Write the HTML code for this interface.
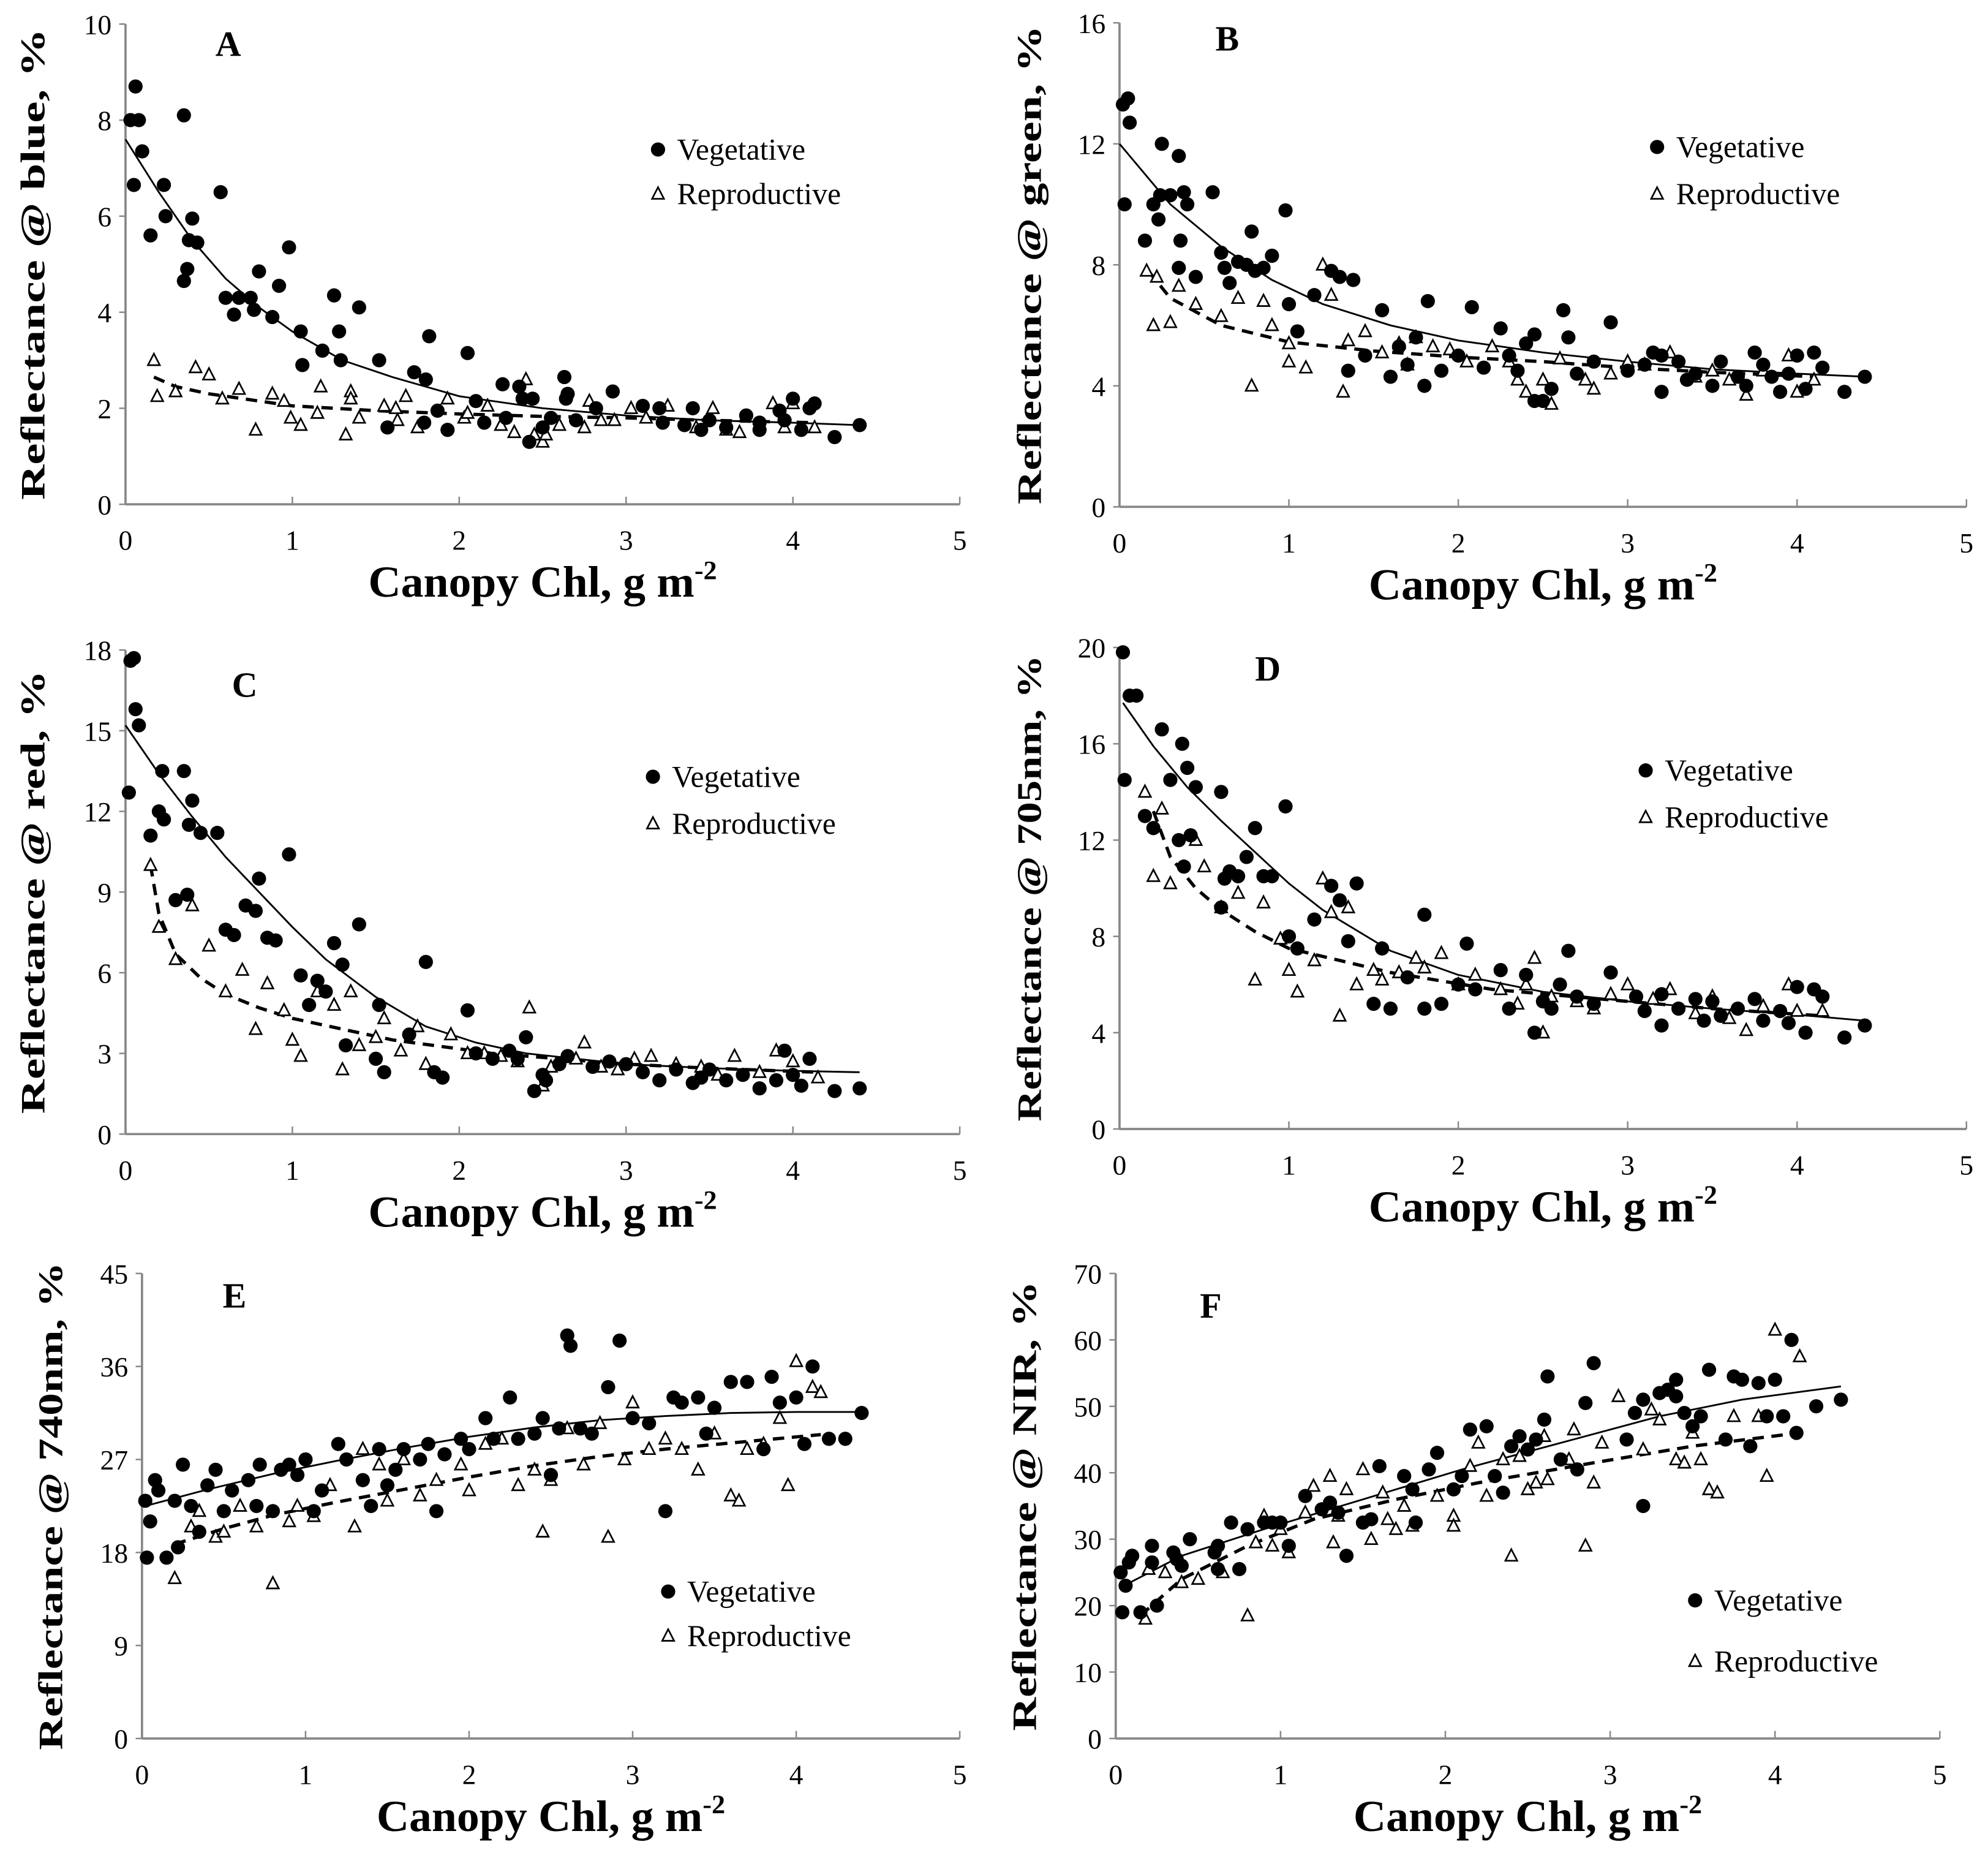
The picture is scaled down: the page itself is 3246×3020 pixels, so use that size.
<!DOCTYPE html>
<html><head><meta charset="utf-8"><style>
html,body{margin:0;padding:0;background:#fff;}
svg{display:block;}
</style></head><body>
<svg id="chart" xmlns="http://www.w3.org/2000/svg" width="3246" height="3020" viewBox="0 0 1568 1460" preserveAspectRatio="none" font-family="'Liberation Serif', serif"></svg>
<script>
// ---- Panel A (blue) ----
const aVegX=[0.03,0.06,0.08,0.1,0.05,0.15,0.23,0.24,0.35,0.35,0.37,0.38,0.4,0.43,0.57,0.6,0.65,0.68,0.75,0.77,0.8,0.88,0.92,0.98,1.05,1.06,1.18,1.25,1.28,1.29,1.4,1.52,1.57,1.73,1.8,1.82,1.79,1.87,1.93,2.05,2.1,2.15,2.26,2.28,2.36,2.38,2.42,2.44,2.5,2.55,2.63,2.64,2.65,2.7,2.82,2.92,3.1,3.2,3.22,3.35,3.4,3.45,3.5,3.6,3.72,3.8,3.8,3.92,3.95,4.0,4.05,4.1,4.13,4.25,4.4];
const aVegY=[8.0,8.7,8.0,7.35,6.65,5.6,6.65,6.0,8.1,4.65,4.9,5.5,5.95,5.45,6.5,4.3,3.95,4.3,4.3,4.05,4.85,3.9,4.55,5.35,3.6,2.9,3.2,4.35,3.6,3.0,4.1,3.0,1.6,2.75,2.6,3.5,1.7,1.95,1.55,3.15,2.15,1.7,2.5,1.8,2.45,2.2,1.3,2.2,1.6,1.8,2.65,2.2,2.3,1.75,2.0,2.35,2.05,2.0,1.7,1.65,2.0,1.55,1.75,1.6,1.85,1.55,1.7,1.95,1.75,2.2,1.55,2.0,2.1,1.4,1.65];
const aRepX=[0.17,0.19,0.3,0.42,0.5,0.58,0.68,0.78,0.88,0.95,0.99,1.05,1.15,1.17,1.32,1.35,1.35,1.4,1.55,1.62,1.63,1.68,1.75,1.93,2.03,2.05,2.17,2.25,2.33,2.4,2.45,2.5,2.52,2.6,2.75,2.78,2.85,2.93,3.03,3.12,3.25,3.42,3.52,3.6,3.68,3.88,3.95,4.0,4.13];
const aRepY=[3.0,2.25,2.35,2.85,2.7,2.2,2.4,1.55,2.3,2.15,1.8,1.65,1.9,2.45,1.45,2.35,2.2,1.8,2.05,2.0,1.75,2.25,1.6,2.2,1.8,1.9,2.05,1.65,1.5,2.6,1.45,1.3,1.45,1.65,1.6,2.15,1.75,1.75,2.0,1.8,2.05,1.6,2.0,1.55,1.5,2.1,1.6,2.1,1.6];
const aVegCurveX=[0,0.2,0.4,0.6,0.8,1.0,1.3,1.6,2.0,2.5,3.0,3.5,4.0,4.4];
const aVegCurveY=[7.6,6.5,5.5,4.7,4.1,3.6,3.0,2.65,2.25,2.0,1.85,1.75,1.7,1.65];
const aRepCurveX=[0.17,0.3,0.5,0.8,1.0,1.5,2.0,2.5,3.0,3.5,4.13];
const aRepCurveY=[2.65,2.45,2.3,2.15,2.05,1.95,1.88,1.83,1.8,1.75,1.7];
// ---- Panel B (green) ----
const bVegX=[0.02,0.05,0.06,0.03,0.15,0.2,0.23,0.24,0.25,0.3,0.35,0.36,0.35,0.38,0.4,0.45,0.55,0.6,0.62,0.65,0.7,0.75,0.78,0.8,0.85,0.9,0.98,1.0,1.05,1.15,1.25,1.3,1.35,1.38,1.45,1.55,1.6,1.65,1.7,1.75,1.8,1.82,1.9,2.0,2.08,2.15,2.25,2.3,2.35,2.4,2.45,2.45,2.5,2.55,2.62,2.65,2.7,2.8,2.9,3.0,3.1,3.15,3.2,3.2,3.3,3.35,3.4,3.5,3.55,3.65,3.7,3.75,3.8,3.85,3.9,3.95,4.0,4.05,4.1,4.15,4.28,4.4];
const bVegY=[13.3,13.5,12.7,10.0,8.8,10.0,9.5,10.3,12.0,10.3,11.6,8.8,7.9,10.4,10.0,7.6,10.4,8.4,7.9,7.4,8.1,8.0,9.1,7.8,7.9,8.3,9.8,6.7,5.8,7.0,7.8,7.6,4.5,7.5,5.0,6.5,4.3,5.3,4.7,5.6,4.0,6.8,4.5,5.0,6.6,4.6,5.9,5.0,4.5,5.4,5.7,3.5,3.5,3.9,6.5,5.6,4.4,4.8,6.1,4.5,4.7,5.1,5.0,3.8,4.8,4.2,4.4,4.0,4.8,4.3,4.0,5.1,4.7,4.3,3.8,4.4,5.0,3.9,5.1,4.6,3.8,4.3];
const bRepX=[0.16,0.2,0.22,0.3,0.35,0.45,0.6,0.7,0.78,0.85,0.9,1.0,1.0,1.1,1.2,1.25,1.32,1.35,1.45,1.55,1.65,1.7,1.75,1.85,1.95,2.05,2.2,2.3,2.35,2.4,2.5,2.55,2.6,2.75,2.8,2.9,3.0,3.1,3.25,3.4,3.5,3.6,3.7,3.8,3.95,4.0,4.1];
const bRepY=[7.8,6.0,7.6,6.1,7.3,6.7,6.3,6.9,4.0,6.8,6.0,5.4,4.8,4.6,8.0,7.0,3.8,5.5,5.8,5.1,5.4,4.7,5.6,5.3,5.2,4.8,5.3,4.8,4.2,3.8,4.2,3.4,4.9,4.2,3.9,4.4,4.8,4.7,5.1,4.3,4.5,4.2,3.7,4.5,5.0,3.8,4.2];
const bVegCurveX=[0,0.3,0.6,0.9,1.2,1.6,2.0,2.5,3.0,3.5,4.0,4.4];
const bVegCurveY=[12.0,10.0,8.6,7.5,6.7,6.0,5.5,5.1,4.8,4.55,4.4,4.3];
const bRepCurveX=[0.17,0.3,0.6,1.0,1.5,2.0,2.5,3.0,3.5,4.1];
const bRepCurveY=[7.8,6.9,6.0,5.45,5.15,4.95,4.8,4.6,4.45,4.3];
// ---- Panel C (red) ----
const cVegX=[0.02,0.03,0.05,0.06,0.08,0.15,0.2,0.22,0.23,0.3,0.35,0.37,0.38,0.4,0.45,0.55,0.6,0.65,0.72,0.78,0.8,0.85,0.9,0.98,1.05,1.1,1.15,1.2,1.25,1.3,1.32,1.4,1.5,1.52,1.55,1.7,1.8,1.85,1.9,2.05,2.1,2.2,2.3,2.35,2.4,2.45,2.5,2.52,2.6,2.65,2.8,2.9,3.0,3.1,3.2,3.3,3.4,3.45,3.5,3.6,3.7,3.8,3.9,3.95,4.0,4.05,4.1,4.25,4.4];
const cVegY=[12.7,17.6,17.7,15.8,15.2,11.1,12.0,13.5,11.7,8.7,13.5,8.9,11.5,12.4,11.2,11.2,7.6,7.4,8.5,8.3,9.5,7.3,7.2,10.4,5.9,4.8,5.7,5.3,7.1,6.3,3.3,7.8,2.8,4.8,2.3,3.7,6.4,2.3,2.1,4.6,3.0,2.8,3.1,2.8,3.6,1.6,2.2,2.0,2.6,2.9,2.5,2.7,2.6,2.3,2.0,2.4,1.9,2.1,2.4,2.0,2.2,1.7,2.0,3.1,2.2,1.8,2.8,1.6,1.7];
const cRepX=[0.15,0.2,0.3,0.4,0.5,0.6,0.7,0.78,0.85,0.95,1.0,1.05,1.15,1.25,1.3,1.35,1.4,1.5,1.55,1.65,1.75,1.8,1.95,2.05,2.15,2.25,2.35,2.42,2.5,2.55,2.7,2.75,2.85,2.95,3.05,3.15,3.3,3.45,3.55,3.65,3.8,3.9,4.0,4.15];
const cRepY=[10.0,7.7,6.5,8.5,7.0,5.3,6.1,3.9,5.6,4.6,3.5,2.9,5.3,4.8,2.4,5.3,3.3,3.6,4.3,3.1,4.0,2.6,3.7,3.0,3.0,2.9,2.7,4.7,1.8,2.5,2.8,3.4,2.5,2.4,2.8,2.9,2.6,2.5,2.2,2.9,2.3,3.1,2.7,2.1];
const cVegCurveX=[0,0.2,0.4,0.6,0.8,1.0,1.2,1.5,1.8,2.1,2.4,3.0,3.5,4.0,4.4];
const cVegCurveY=[15.2,13.4,11.8,10.3,9.0,7.7,6.5,5.1,4.0,3.4,3.0,2.6,2.45,2.35,2.3];
const cRepCurveX=[0.15,0.2,0.3,0.45,0.6,0.8,1.0,1.3,1.6,2.2,3.0,3.5,4.15];
const cRepCurveY=[10.0,8.2,6.7,5.8,5.2,4.7,4.3,3.9,3.5,3.0,2.6,2.45,2.3];
// ---- Panel D (705nm) ----
const dVegX=[0.02,0.03,0.06,0.1,0.15,0.2,0.25,0.3,0.35,0.37,0.38,0.4,0.45,0.42,0.6,0.6,0.62,0.65,0.7,0.75,0.8,0.85,0.9,0.98,1.0,1.05,1.15,1.25,1.3,1.35,1.4,1.5,1.55,1.6,1.7,1.8,1.8,1.9,2.0,2.05,2.1,2.25,2.3,2.4,2.45,2.5,2.55,2.6,2.65,2.7,2.8,2.9,3.05,3.1,3.2,3.2,3.3,3.4,3.45,3.5,3.55,3.65,3.75,3.8,3.9,3.95,4.0,4.05,4.1,4.15,4.28,4.4];
const dVegY=[19.8,14.5,18.0,18.0,13.0,12.5,16.6,14.5,12.0,16.0,10.9,15.0,14.2,12.2,14.0,9.2,10.4,10.7,10.5,11.3,12.5,10.5,10.5,13.4,8.0,7.5,8.7,10.1,9.5,7.8,10.2,5.2,7.5,5.0,6.3,8.9,5.0,5.2,6.0,7.7,5.8,6.6,5.0,6.4,4.0,5.3,5.0,6.0,7.4,5.5,5.2,6.5,5.5,4.9,5.6,4.3,5.0,5.4,4.5,5.3,4.7,5.0,5.4,4.5,4.9,4.4,5.9,4.0,5.8,5.5,3.8,4.3];
const dRepX=[0.15,0.2,0.25,0.3,0.45,0.5,0.6,0.7,0.8,0.85,0.95,1.0,1.05,1.15,1.2,1.25,1.3,1.35,1.4,1.5,1.55,1.65,1.75,1.8,1.9,2.0,2.1,2.25,2.35,2.4,2.45,2.5,2.55,2.7,2.8,2.9,3.0,3.15,3.25,3.4,3.5,3.6,3.7,3.8,3.95,4.0,4.15];
const dRepY=[14.0,10.5,13.3,10.2,12.0,10.9,9.2,9.8,6.2,9.4,7.9,6.6,5.7,7.0,10.4,9.0,4.7,9.2,6.0,6.6,6.2,6.5,7.1,6.7,7.3,6.0,6.4,5.8,5.2,6.0,7.1,4.0,5.5,5.3,5.0,5.6,6.0,5.4,5.8,4.8,5.5,4.6,4.1,5.1,6.0,4.9,4.9];
const dVegCurveX=[0.02,0.2,0.4,0.6,0.8,1.0,1.2,1.6,2.0,2.5,3.0,3.5,4.0,4.4];
const dVegCurveY=[17.7,15.9,14.2,12.8,11.5,10.2,9.1,7.4,6.4,5.7,5.3,5.0,4.75,4.5];
const dRepCurveX=[0.2,0.3,0.45,0.6,0.8,1.0,1.3,1.6,2.2,3.0,3.5,4.15];
const dRepCurveY=[13.2,11.3,10.0,9.1,8.2,7.5,7.0,6.5,5.8,5.3,5.0,4.7];
// ---- Panel E (740nm) ----
const eVegX=[0.02,0.03,0.05,0.08,0.1,0.15,0.2,0.22,0.25,0.3,0.35,0.4,0.45,0.5,0.55,0.65,0.7,0.72,0.8,0.85,0.9,0.95,1.0,1.05,1.1,1.2,1.25,1.35,1.4,1.45,1.5,1.55,1.6,1.7,1.75,1.8,1.85,1.95,2.0,2.1,2.15,2.25,2.3,2.4,2.45,2.5,2.55,2.6,2.62,2.68,2.75,2.85,2.92,3.0,3.1,3.2,3.25,3.3,3.4,3.45,3.5,3.6,3.7,3.8,3.85,3.9,4.0,4.05,4.1,4.2,4.3,4.4];
const eVegY=[23.0,17.5,21.0,25.0,24.0,17.5,23.0,18.5,26.5,22.5,20.0,24.5,26.0,22.0,24.0,25.0,22.5,26.5,22.0,26.0,26.5,25.5,27.0,22.0,24.0,28.5,27.0,25.0,22.5,28.0,24.5,26.0,28.0,27.0,28.5,22.0,27.5,29.0,28.0,31.0,29.0,33.0,29.0,29.5,31.0,25.5,30.0,39.0,38.0,30.0,29.5,34.0,38.5,31.0,30.5,22.0,33.0,32.5,33.0,29.5,32.0,34.5,34.5,28.0,35.0,32.5,33.0,28.5,36.0,29.0,29.0,31.5];
const eRepX=[0.2,0.3,0.35,0.45,0.5,0.6,0.7,0.8,0.9,0.95,1.05,1.15,1.3,1.35,1.45,1.5,1.6,1.7,1.8,1.95,2.0,2.1,2.2,2.3,2.4,2.45,2.5,2.6,2.7,2.8,2.85,2.95,3.0,3.1,3.2,3.3,3.4,3.5,3.6,3.65,3.7,3.8,3.9,3.95,4.0,4.1,4.15];
const eRepY=[15.5,20.5,22.0,19.5,20.0,22.5,20.5,15.0,21.0,22.5,21.5,24.5,20.5,28.0,26.5,23.0,27.0,23.5,25.0,26.5,24.0,28.5,29.0,24.5,26.0,20.0,25.0,30.0,26.5,30.5,19.5,27.0,32.5,28.0,29.0,28.0,26.0,29.5,23.5,23.0,28.0,28.5,31.0,24.5,36.5,34.0,33.5];
const eVegCurveX=[0.02,0.4,0.8,1.2,1.6,2.0,2.4,2.8,3.2,3.6,4.0,4.4];
const eVegCurveY=[22.5,24.1,25.6,26.9,28.1,29.2,30.1,30.8,31.2,31.5,31.6,31.6];
const eRepCurveX=[0.2,0.5,0.8,1.2,1.6,2.0,2.4,2.8,3.2,3.6,4.15];
const eRepCurveY=[18.8,20.3,21.6,22.9,24.1,25.3,26.4,27.3,28.0,28.6,29.4];
// ---- Panel F (NIR) ----
const fVegX=[0.03,0.04,0.06,0.08,0.1,0.15,0.22,0.22,0.25,0.35,0.37,0.4,0.45,0.6,0.62,0.62,0.7,0.75,0.8,0.9,0.95,1.0,1.05,1.15,1.25,1.3,1.35,1.4,1.5,1.55,1.6,1.75,1.8,1.82,1.9,1.95,2.05,2.1,2.15,2.25,2.3,2.35,2.4,2.45,2.5,2.55,2.6,2.62,2.7,2.8,2.85,2.9,3.1,3.15,3.2,3.2,3.3,3.35,3.4,3.4,3.45,3.5,3.55,3.6,3.7,3.75,3.8,3.85,3.9,3.95,4.0,4.05,4.1,4.13,4.25,4.4];
const fVegY=[25.0,19.0,23.0,26.5,27.5,19.0,26.5,29.0,20.0,28.0,27.0,26.0,30.0,28.0,29.0,25.5,32.5,25.5,31.5,32.5,32.5,32.5,29.0,36.5,34.5,35.5,34.0,27.5,32.5,33.0,41.0,39.5,37.5,32.5,40.5,43.0,37.5,39.5,46.5,47.0,39.5,37.0,44.0,45.5,43.5,45.0,48.0,54.5,42.0,40.5,50.5,56.5,45.0,49.0,51.0,35.0,52.0,52.5,54.0,51.5,49.0,47.0,48.5,55.5,45.0,54.5,54.0,44.0,53.5,48.5,54.0,48.5,60.0,46.0,50.0,51.0];
const fRepX=[0.18,0.2,0.3,0.4,0.5,0.65,0.8,0.85,0.9,0.95,1.0,1.05,1.15,1.2,1.3,1.32,1.35,1.4,1.5,1.55,1.62,1.65,1.7,1.75,1.8,1.95,2.05,2.05,2.15,2.2,2.25,2.35,2.4,2.45,2.5,2.55,2.6,2.62,2.75,2.78,2.85,2.9,2.95,3.05,3.2,3.25,3.3,3.4,3.45,3.5,3.55,3.6,3.65,3.75,3.9,3.95,4.0,4.15];
const fRepY=[18.0,25.5,25.0,23.5,24.0,25.0,18.5,29.5,33.5,29.0,31.5,28.0,34.0,38.0,39.5,29.5,33.5,37.5,40.5,30.0,37.0,33.0,31.5,35.0,32.0,36.5,33.5,32.0,41.0,44.5,36.5,42.0,27.5,42.5,37.5,38.5,45.5,39.0,42.0,46.5,29.0,38.5,44.5,51.5,43.5,49.5,48.0,42.0,41.5,46.0,42.0,37.5,37.0,48.5,48.5,39.5,61.5,57.5];
const fVegCurveX=[0.05,0.4,0.9,1.5,2.1,2.7,3.3,3.8,4.4];
const fVegCurveY=[23.0,27.5,31.5,36.0,40.5,44.5,48.5,51.0,53.0];
const fRepCurveX=[0.15,0.4,0.8,1.2,1.7,2.2,2.9,3.5,4.15];
const fRepCurveY=[18.5,24.0,29.0,33.0,36.0,38.5,41.5,44.0,46.0];

const xTicks=[0,1,2,3,4,5];
const aYTicks=[0,2,4,6,8,10];
const bYTicks=[0,4,8,12,16];
const cYTicks=[0,3,6,9,12,15,18];
const dYTicks=[0,4,8,12,16,20];
const eYTicks=[0,9,18,27,36,45];
const fYTicks=[0,10,20,30,40,50,60,70];

const NS='http://www.w3.org/2000/svg';
const svg=document.getElementById('chart');
function mk(tag,attrs,parent){const e=document.createElementNS(NS,tag);for(const k in attrs)e.setAttribute(k,attrs[k]);(parent||svg).appendChild(e);return e;}

const panels=[
 {id:'a',letter:'A',ylabel:'Reflectance @ blue, %',L:99,R:757,B:398,T:19,yMax:10,yt:aYTicks,vx:aVegX,vy:aVegY,rx:aRepX,ry:aRepY,vcx:aVegCurveX,vcy:aVegCurveY,rcx:aRepCurveX,rcy:aRepCurveY,lx:180,ly:44,legX:519,legY1:118,legY2:153,ylX:26,ylLen:372},
 {id:'b',letter:'B',ylabel:'Reflectance @ green, %',L:883,R:1551,B:400,T:18,yMax:16,yt:bYTicks,vx:bVegX,vy:bVegY,rx:bRepX,ry:bRepY,vcx:bVegCurveX,vcy:bVegCurveY,rcx:bRepCurveX,rcy:bRepCurveY,lx:968,ly:40,legX:1307,legY1:116,legY2:153,ylX:812,ylLen:378},
 {id:'c',letter:'C',ylabel:'Reflectance @ red, %',L:99,R:757,B:895,T:513,yMax:18,yt:cYTicks,vx:cVegX,vy:cVegY,rx:cRepX,ry:cRepY,vcx:cVegCurveX,vcy:cVegCurveY,rcx:cRepCurveX,rcy:cRepCurveY,lx:193,ly:550,legX:515,legY1:613,legY2:650,ylX:26,ylLen:350},
 {id:'d',letter:'D',ylabel:'Reflectance @ 705nm, %',L:883,R:1551,B:891,T:511,yMax:20,yt:dYTicks,vx:dVegX,vy:dVegY,rx:dRepX,ry:dRepY,vcx:dVegCurveX,vcy:dVegCurveY,rcx:dRepCurveX,rcy:dRepCurveY,lx:1000,ly:537,legX:1298,legY1:608,legY2:645,ylX:812,ylLen:368},
 {id:'e',letter:'E',ylabel:'Reflectance @ 740nm, %',L:112,R:757,B:1372,T:1005,yMax:45,yt:eYTicks,vx:eVegX,vy:eVegY,rx:eRepX,ry:eRepY,vcx:eVegCurveX,vcy:eVegCurveY,rcx:eRepCurveX,rcy:eRepCurveY,lx:185,ly:1032,legX:527,legY1:1256,legY2:1291,ylX:40,ylLen:385},
 {id:'f',letter:'F',ylabel:'Reflectance @ NIR, %',L:880,R:1530,B:1372,T:1005,yMax:70,yt:fYTicks,vx:fVegX,vy:fVegY,rx:fRepX,ry:fRepY,vcx:fVegCurveX,vcy:fVegCurveY,rcx:fRepCurveX,rcy:fRepCurveY,lx:955,ly:1040,legX:1337,legY1:1263,legY2:1311,ylX:808,ylLen:355}
];

function tri(g,cx,cy){
  const s=5.2;
  return mk('polygon',{points:`${cx},${cy-s} ${cx-s*0.9},${cy+s*0.75} ${cx+s*0.9},${cy+s*0.75}`,fill:'#fff',stroke:'#000','stroke-width':1.3},g);
}

panels.forEach(p=>{
  const g=mk('g',{});
  
  
  const sx=v=>p.L+(p.R-p.L)*v/5;
  const sy=v=>p.B-(p.B-p.T)*v/p.yMax;
  const ax=mk('line',{x1:p.L,y1:p.B,x2:p.R,y2:p.B,stroke:'#888','stroke-width':1.8},g);
  
  
  const ay=mk('line',{x1:p.L,y1:p.B,x2:p.L,y2:p.T,stroke:'#888','stroke-width':1.8},g);
  
  
  xTicks.forEach(t=>{
    mk('line',{x1:sx(t),y1:p.B,x2:sx(t),y2:p.B-6,stroke:'#888','stroke-width':1.2},g);
    const tx=mk('text',{x:sx(t),y:p.B+36,'font-size':22,'text-anchor':'middle',fill:'#000'},g);
    tx.textContent=t;
    
    
  });
  p.yt.forEach(t=>{
    mk('line',{x1:p.L-5,y1:sy(t),x2:p.L,y2:sy(t),stroke:'#888','stroke-width':1.2},g);
    const ty=mk('text',{x:p.L-11,y:sy(t)+8,'font-size':22,'text-anchor':'end',fill:'#000'},g);
    ty.textContent=t;
    
    
  });
  const cy=(p.B+p.T)/2;
  const yl=mk('text',{x:0,y:0,transform:`translate(${p.ylX+9},${cy}) rotate(-90)`,'font-size':27,'font-weight':'bold','text-anchor':'middle',textLength:p.ylLen,lengthAdjust:'spacingAndGlyphs',fill:'#000'},g);
  yl.textContent=p.ylabel;
  
  
  const xl=mk('text',{x:(p.L+p.R)/2,y:p.B+73,'font-size':35,'font-weight':'bold','text-anchor':'middle',textLength:275,lengthAdjust:'spacingAndGlyphs',fill:'#000'},g);
  xl.innerHTML='Canopy Chl, g m<tspan font-size="21" dy="-14">-2</tspan>';
  
  
  const lt=mk('text',{x:p.lx,y:p.ly,'font-size':28,'font-weight':'bold','text-anchor':'middle',fill:'#000'},g);
  lt.textContent=p.letter;
  
  
  let dv=p.vcx.map((x,i)=>(i?'L':'M')+sx(x).toFixed(1)+','+sy(p.vcy[i]).toFixed(1)).join(' ');
  const cv=mk('path',{d:dv,fill:'none',stroke:'#000','stroke-width':1.4},g);
  
  
  let dr=p.rcx.map((x,i)=>(i?'L':'M')+sx(x).toFixed(1)+','+sy(p.rcy[i]).toFixed(1)).join(' ');
  const cr=mk('path',{d:dr,fill:'none',stroke:'#000','stroke-width':2.6,'stroke-dasharray':'9,6'},g);
  
  
  p.rx.forEach((x,i)=>{
    const t=tri(g,sx(x),sy(p.ry[i]));
    
    
  });
  p.vx.forEach((x,i)=>{
    const c=mk('circle',{cx:sx(x),cy:sy(p.vy[i]),r:5.6,fill:'#000'},g);
    
    
  });
  const lg=mk('g',{},g);
  
  
  const ld=mk('circle',{cx:p.legX,cy:p.legY1,r:5.6,fill:'#000'},lg);
  
  
  const l1=mk('text',{x:p.legX+15,y:p.legY1+8,'font-size':24,fill:'#000'},lg);
  l1.textContent='Vegetative';
  
  
  const lt2=tri(lg,p.legX,p.legY2);
  
  
  const l2=mk('text',{x:p.legX+15,y:p.legY2+8,'font-size':24,fill:'#000'},lg);
  l2.textContent='Reproductive';
  
  
});
</script>
</body></html>
